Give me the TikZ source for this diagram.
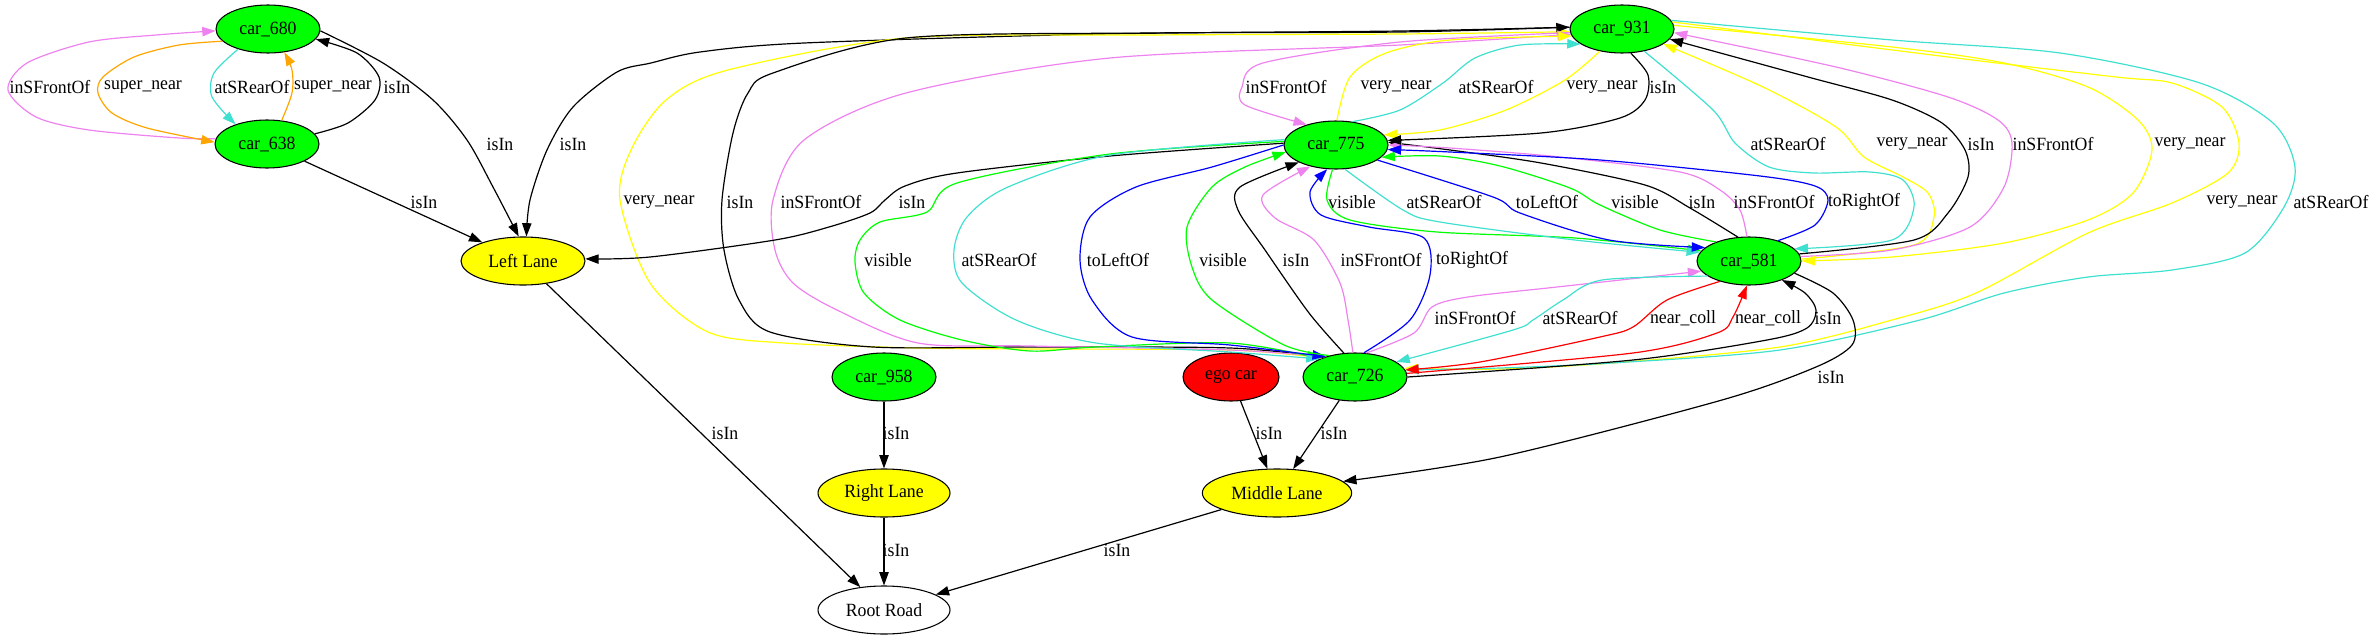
\documentclass[tikz,border=0pt]{standalone}
\usepackage{fontspec}
\setmainfont{Liberation Serif}[FakeStretch=0.95]
\usepackage{xcolor}
\usepackage{tikz}
\usetikzlibrary{shapes.geometric,arrows.meta}

\definecolor{gvgreen}{HTML}{00FF00}
\definecolor{gvred}{HTML}{FF0000}
\definecolor{gvyellow}{HTML}{FFFF00}
\definecolor{gvblue}{HTML}{0000FF}
\definecolor{gvviolet}{HTML}{EE82EE}
\definecolor{gvorange}{HTML}{FFA500}
\definecolor{gvturq}{HTML}{40E0D0}

\begin{document}
\begin{tikzpicture}[x=0.75pt, y=-0.75pt,
    car/.style={ellipse, draw, line width=0.8pt, fill=gvgreen, minimum width=78pt, minimum height=36pt, inner sep=0pt, font=\fontsize{14}{16}\selectfont},
    lane/.style={car, fill=gvyellow},
    e/.style={-{Triangle[length=10pt,width=7pt]}, line width=0.9pt},
    lbl/.style={inner sep=0pt, font=\fontsize{14}{16}\selectfont}]

    \useasboundingbox (0,0) rectangle (2378,639);

    \node [car] (c680) at (268,29) {car\_680};
    \node [car] (c638) at (267,144) {car\_638};
    \node [lane, minimum width=93pt] (left) at (523,261) {Left Lane};
    \node [car] (c931) at (1622,29) {car\_931};
    \node [car] (c775) at (1336,145) {car\_775};
    \node [car] (c581) at (1749,261) {car\_581};
    \node [car] (c958) at (884,377) {car\_958};
    \node [car, fill=gvred, minimum width=72pt] (ego) at (1231,377) {ego car};
    \node [car] (c726) at (1355,377) {car\_726};
    \node [lane, minimum width=99pt] (right) at (884,493) {Right Lane};
    \node [lane, minimum width=112pt] (middle) at (1277,493) {Middle Lane};
    \node [car, fill=white, minimum width=99pt] (root) at (884,610) {Root Road};

    % car_680 / car_638
    \draw [e, gvviolet] plot[smooth] coordinates {(c638.174) (179,138) (89,130) (36,117) (8,90) (27,63) (89,42) (156,35) (c680.182)};
    \draw [e, gvorange] plot[smooth] coordinates {(c680.195) (179,45) (134,57) (103,77) (98,93) (112,113) (147,128) (c638.178)};
    \draw [e, gvturq] plot[smooth] coordinates {(c680.214) (214,73) (212,97) (c638.148)};
    \draw [e, gvorange] plot[smooth] coordinates {(c638.58) (292,93) (292,70) (c680.305)};
    \draw [e] plot[smooth] coordinates {(c638.12) (348,123) (375,100) (379,77) (357,53) (c680.348)};
    \draw [e] plot[smooth] coordinates {(c680.358) (383,63) (433,100) (467,140) (493,187) (left.100)};
    \draw [e] (c638) -- (left);
    \draw [e] plot[smooth] coordinates {(c931.178) (1400,31) (1100,34) (804,43) (700,52) (651,63) (617,72) (573,107) (547,150) (530,200) (left.82)};

    % car_726 -> car_931, left side
    \draw [e, gvyellow] plot[smooth] coordinates {(c726.150) (1230,350) (1030,349) (918,348) (784,343) (708,332) (650,283) (620,200) (631,150) (666,100) (728,70) (906,38) (1150,35) (1400,34) (c931.183)};
    \draw [e] plot[smooth] coordinates {(c726.148) (1230,348) (1030,347) (873,347) (770,332) (739,300) (724,250) (722,200) (733,133) (748,93) (773,73) (906,38) (1150,33) (1400,32) (c931.178)};
    \draw [e, gvviolet] plot[smooth] coordinates {(c726.146) (1230,350) (1030,346) (918,343) (837,310) (793,283) (775,250) (773,200) (804,140) (906,93) (1110,58) (1400,45) (c931.186)};

    % car_775 <-> car_726, car_775 -> Left Lane
    \draw [e] plot[smooth] coordinates {(c775.178) (1110,156) (957,173) (905,186) (885,200) (870,213) (829,227) (775,240) (650,257) (left.2)};
    \draw [e, gvgreen] plot[smooth] coordinates {(c775.176) (1110,154) (957,183) (927,212) (880,222) (860,240) (855,262) (864,293) (900,320) (962,340) (1030,351) (1096,347) (1230,343) (c726.152)};
    \draw [e, gvturq] plot[smooth] coordinates {(c775.174) (1110,155) (1008,187) (967,217) (954,250) (962,283) (1016,320) (1096,343) (1230,352) (c726.153)};
    \draw [e, gvblue] plot[smooth] coordinates {(c775.180) (1212,167) (1136,187) (1090,217) (1080,260) (1092,300) (1132,337) (1230,345) (c726.145)};
    \draw [e, gvgreen] plot[smooth] coordinates {(c726.140) (1284,345) (1212,300) (1192,267) (1187,227) (1212,187) (1245,167) (c775.188)};
    \draw [e] plot[smooth] coordinates {(c726.115) (1309,313) (1265,250) (1238,210) (1240,187) (c775.205)};
    \draw [e, gvviolet] plot[smooth] coordinates {(c726.95) (1348,320) (1340,283) (1314,240) (1275,218) (1263,195) (c775.220)};
    \draw [e, gvblue] plot[smooth] coordinates {(c726.70) (1410,320) (1430,275) (1424,238) (1369,227) (1321,215) (1310,192) (c775.250)};

    % car_775 <-> car_581
    \draw [e, gvgreen] plot[smooth] coordinates {(c775.262) (1327,200) (1350,220) (1437,232) (1575,238) (c581.168)};
    \draw [e, gvturq] plot[smooth] coordinates {(c775.290) (1403,210) (1440,222) (1575,240) (c581.170)};
    \draw [e, gvblue] plot[smooth] coordinates {(c775.340) (1493,197) (1520,213) (1609,240) (c581.163)};
    \draw [e, gvgreen] plot[smooth] coordinates {(c581.150) (1660,230) (1600,205) (1570,188) (1500,166) (1440,156) (c775.345)};
    \draw [e] plot[smooth] coordinates {(c581.115) (1690,208) (1645,185) (1541,163) (1450,150) (c775.3)};
    \draw [e, gvviolet] plot[smooth] coordinates {(c581.95) (1740,210) (1720,190) (1680,172) (1560,157) (1450,148) (c775.0)};
    \draw [e, gvblue] plot[smooth] coordinates {(c581.35) (1815,225) (1828,200) (1815,186) (1760,176) (1600,160) (1450,152) (c775.355)};

    % car_931 <-> car_775
    \draw [e, gvviolet] plot[smooth] coordinates {(c931.184) (1400,42) (1263,63) (1242,87) (1245,105) (c775.145)};
    \draw [e, gvyellow] plot[smooth] coordinates {(c775.88) (1350,77) (1386,53) (1450,40) (c931.188)};
    \draw [e, gvturq] plot[smooth] coordinates {(c775.55) (1400,110) (1443,83) (1475,58) (1520,45) (c931.200)};
    \draw [e, gvyellow] plot[smooth] coordinates {(c931.225) (1565,80) (1506,110) (1440,130) (c775.12)};
    \draw [e] plot[smooth] coordinates {(c931.290) (1648,75) (1645,100) (1620,118) (1541,133) (c775.5)};

    % car_931 <-> car_581, car_931 -> car_726
    \draw [e, gvturq] plot[smooth] coordinates {(c931.315) (1713,110) (1735,143) (1769,167) (1814,173) (1870,172) (1903,180) (1914,207) (1892,240) (c581.15)};
    \draw [e, gvyellow] plot[smooth] coordinates {(c581.2) (1914,245) (1934,217) (1928,193) (1903,177) (1864,157) (1836,127) (1763,87) (c931.340)};
    \draw [e] plot[smooth] coordinates {(c581.8) (1914,240) (1948,213) (1968,177) (1965,150) (1942,123) (1892,100) (1808,77) (c931.348)};
    \draw [e, gvviolet] plot[smooth] coordinates {(c581.5) (1892,250) (1970,227) (2004,187) (2012,143) (1998,120) (1948,97) (1836,67) (c931.356)};
    \draw [e, gvyellow] plot[smooth] coordinates {(c931.4) (1892,47) (2004,63) (2088,87) (2138,120) (2152,150) (2133,193) (2088,220) (2004,243) (1892,257) (c581.0)};
    \draw [e, gvyellow] plot[smooth] coordinates {(c931.8) (1948,57) (2116,77) (2172,83) (2222,107) (2239,143) (2228,173) (2172,203) (2088,233) (1976,293) (1892,320) (1780,347) (1612,363) (1500,369) (c726.10)};
    \draw [e, gvturq] plot[smooth] coordinates {(c931.10) (1892,40) (2060,53) (2200,83) (2273,123) (2295,167) (2284,207) (2245,253) (2172,270) (2088,277) (2004,293) (1920,320) (1780,350) (1612,363) (1500,368) (c726.8)};

    % car_726 <-> car_581
    \draw [e, gvviolet] plot[smooth] coordinates {(c726.65) (1414,333) (1432,307) (1468,297) (1557,287) (c581.192)};
    \draw [e, gvturq] plot[smooth] coordinates {(c581.200) (1602,280) (1563,300) (1533,320) (1513,330) (c726.20)};
    \draw [e, gvred] plot[smooth] coordinates {(c581.215) (1667,300) (1633,327) (1600,337) (1480,362) (c726.8)};
    \draw [e, gvred] plot[smooth] coordinates {(c726.4) (1633,353) (1717,333) (1733,317) (c581.265)};
    \draw [e] plot[smooth] coordinates {(c726.0) (1633,360) (1767,340) (1807,328) (1816,310) (1805,293) (c581.330)};
    \draw [e] plot[smooth] coordinates {(c581.345) (1833,293) (1853,320) (1852,345) (1816,367) (1722,400) (1500,457) (middle.10)};

    % lanes
    \draw [e] (c958) -- (right);
    \draw [e] (right) -- (root);
    \draw [e] (left) -- (root);
    \draw [e] (middle) -- (root);
    \draw [e] (ego) -- (middle);
    \draw [e] (c726) -- (middle);

    \node [lbl] (l1) at (50,87) {inSFrontOf};
    \node [lbl] (l2) at (143,87) {super\_near};
    \node [lbl] (l3) at (252,87) {atSRearOf};
    \node [lbl] (l4) at (333,87) {super\_near};
    \node [lbl] (l5) at (397,87) {isIn};
    \node [lbl] (l6) at (500,144) {isIn};
    \node [lbl] (l7) at (424,202) {isIn};
    \node [lbl] (l8) at (573,144) {isIn};
    \node [lbl] (l9) at (659,202) {very\_near};
    \node [lbl] (l10) at (740,202) {isIn};
    \node [lbl] (l11) at (821,202) {inSFrontOf};
    \node [lbl] (l12) at (912,202) {isIn};
    \node [lbl] (l13) at (888,260) {visible};
    \node [lbl] (l14) at (999,260) {atSRearOf};
    \node [lbl] (l15) at (1118,260) {toLeftOf};
    \node [lbl] (l16) at (1223,260) {visible};
    \node [lbl] (l17) at (1296,260) {isIn};
    \node [lbl] (l18) at (1381,260) {inSFrontOf};
    \node [lbl] (l19) at (1472,260) {toRightOf};
    \node [lbl] (l20) at (1352,202) {visible};
    \node [lbl] (l21) at (1444,202) {atSRearOf};
    \node [lbl] (l22) at (1547,202) {toLeftOf};
    \node [lbl] (l23) at (1635,202) {visible};
    \node [lbl] (l24) at (1702,202) {isIn};
    \node [lbl] (l25) at (1774,202) {inSFrontOf};
    \node [lbl] (l26) at (1864,202) {toRightOf};
    \node [lbl] (l27) at (1286,87) {inSFrontOf};
    \node [lbl] (l28) at (1396,87) {very\_near};
    \node [lbl] (l29) at (1496,87) {atSRearOf};
    \node [lbl] (l30) at (1602,87) {very\_near};
    \node [lbl] (l31) at (1663,87) {isIn};
    \node [lbl] (l32) at (1788,144) {atSRearOf};
    \node [lbl] (l33) at (1912,144) {very\_near};
    \node [lbl] (l34) at (1981,144) {isIn};
    \node [lbl] (l35) at (2053,144) {inSFrontOf};
    \node [lbl] (l36) at (2190,144) {very\_near};
    \node [lbl] (l37) at (2242,202) {very\_near};
    \node [lbl] (l38) at (2331,202) {atSRearOf};
    \node [lbl] (l39) at (1475,318) {inSFrontOf};
    \node [lbl] (l40) at (1580,318) {atSRearOf};
    \node [lbl] (l41) at (1683,318) {near\_coll};
    \node [lbl] (l42) at (1768,318) {near\_coll};
    \node [lbl] (l43) at (1828,318) {isIn};
    \node [lbl] (l44) at (1831,377) {isIn};
    \node [lbl] (l45) at (896,433) {isIn};
    \node [lbl] (l46) at (896,550) {isIn};
    \node [lbl] (l47) at (725,433) {isIn};
    \node [lbl] (l48) at (1117,550) {isIn};
    \node [lbl] (l49) at (1269,433) {isIn};
    \node [lbl] (l50) at (1334,433) {isIn};
\end{tikzpicture}
\end{document}
